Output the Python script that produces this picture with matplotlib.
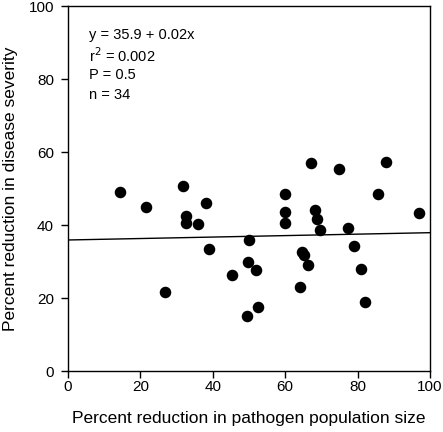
import matplotlib.pyplot as plt
import numpy as np

plt.rcParams['font.family'] = ['Liberation Sans', 'DejaVu Sans']

# percent reduction in pathogen population size
pathogen = [14.4, 21.5, 31.9, 38.0, 32.7, 32.7, 35.8, 39.0, 26.9, 50.1,
            49.8, 51.9, 45.4, 52.4, 49.5, 67.1, 74.9, 87.9, 60.0, 85.5,
            60.0, 68.1, 60.0, 68.9, 97.0, 69.7, 77.3, 79.1, 64.7, 65.2,
            66.3, 80.8, 64.2, 82.0]
# percent reduction in disease severity
severity = [49.1, 44.9, 50.6, 45.9, 42.4, 40.6, 40.3, 33.3, 21.7, 35.9,
            30.0, 27.6, 26.4, 17.4, 15.2, 57.1, 55.4, 57.3, 48.4, 48.4,
            43.6, 44.2, 40.5, 41.7, 43.4, 38.5, 39.2, 34.3, 32.5, 31.9,
            29.1, 28.0, 22.9, 19.0]

intercept = 35.9
slope = 0.02
stats = ['y = 35.9 + 0.02x', 'r$^2$ = 0.002', 'P = 0.5', 'n = 34']

fig = plt.figure(figsize=(4.43, 4.32), dpi=100)
ax = fig.add_axes([0.1535, 0.1412, 0.8172, 0.8448])

ax.plot(pathogen, severity, 'o', color='black', markersize=7.3)
xs = np.array([0, 100])
ax.plot(xs, intercept + slope * xs, color='black', linewidth=1)

ax.set_xlim(0, 100)
ax.set_ylim(0, 100)
ax.set_xticks(range(0, 101, 20))
ax.set_yticks(range(0, 101, 20))
ax.tick_params(direction='out', length=5, width=1, labelsize=11, colors='black')
ax.tick_params(axis='x', pad=1.5)
ax.tick_params(axis='y', pad=5)
for s in ax.spines.values():
    s.set_linewidth(1)

ax.set_xlabel('Percent reduction in pathogen population size', fontsize=12.5, labelpad=12)
ax.set_ylabel('Percent reduction in disease severity', fontsize=12.5, labelpad=8)

for i, t in enumerate(stats):
    ax.text(0.058, 0.92 - i * 0.055, t, transform=ax.transAxes,
            fontsize=10.5, va='center', ha='left')

fig.savefig('out.png', dpi=100)
